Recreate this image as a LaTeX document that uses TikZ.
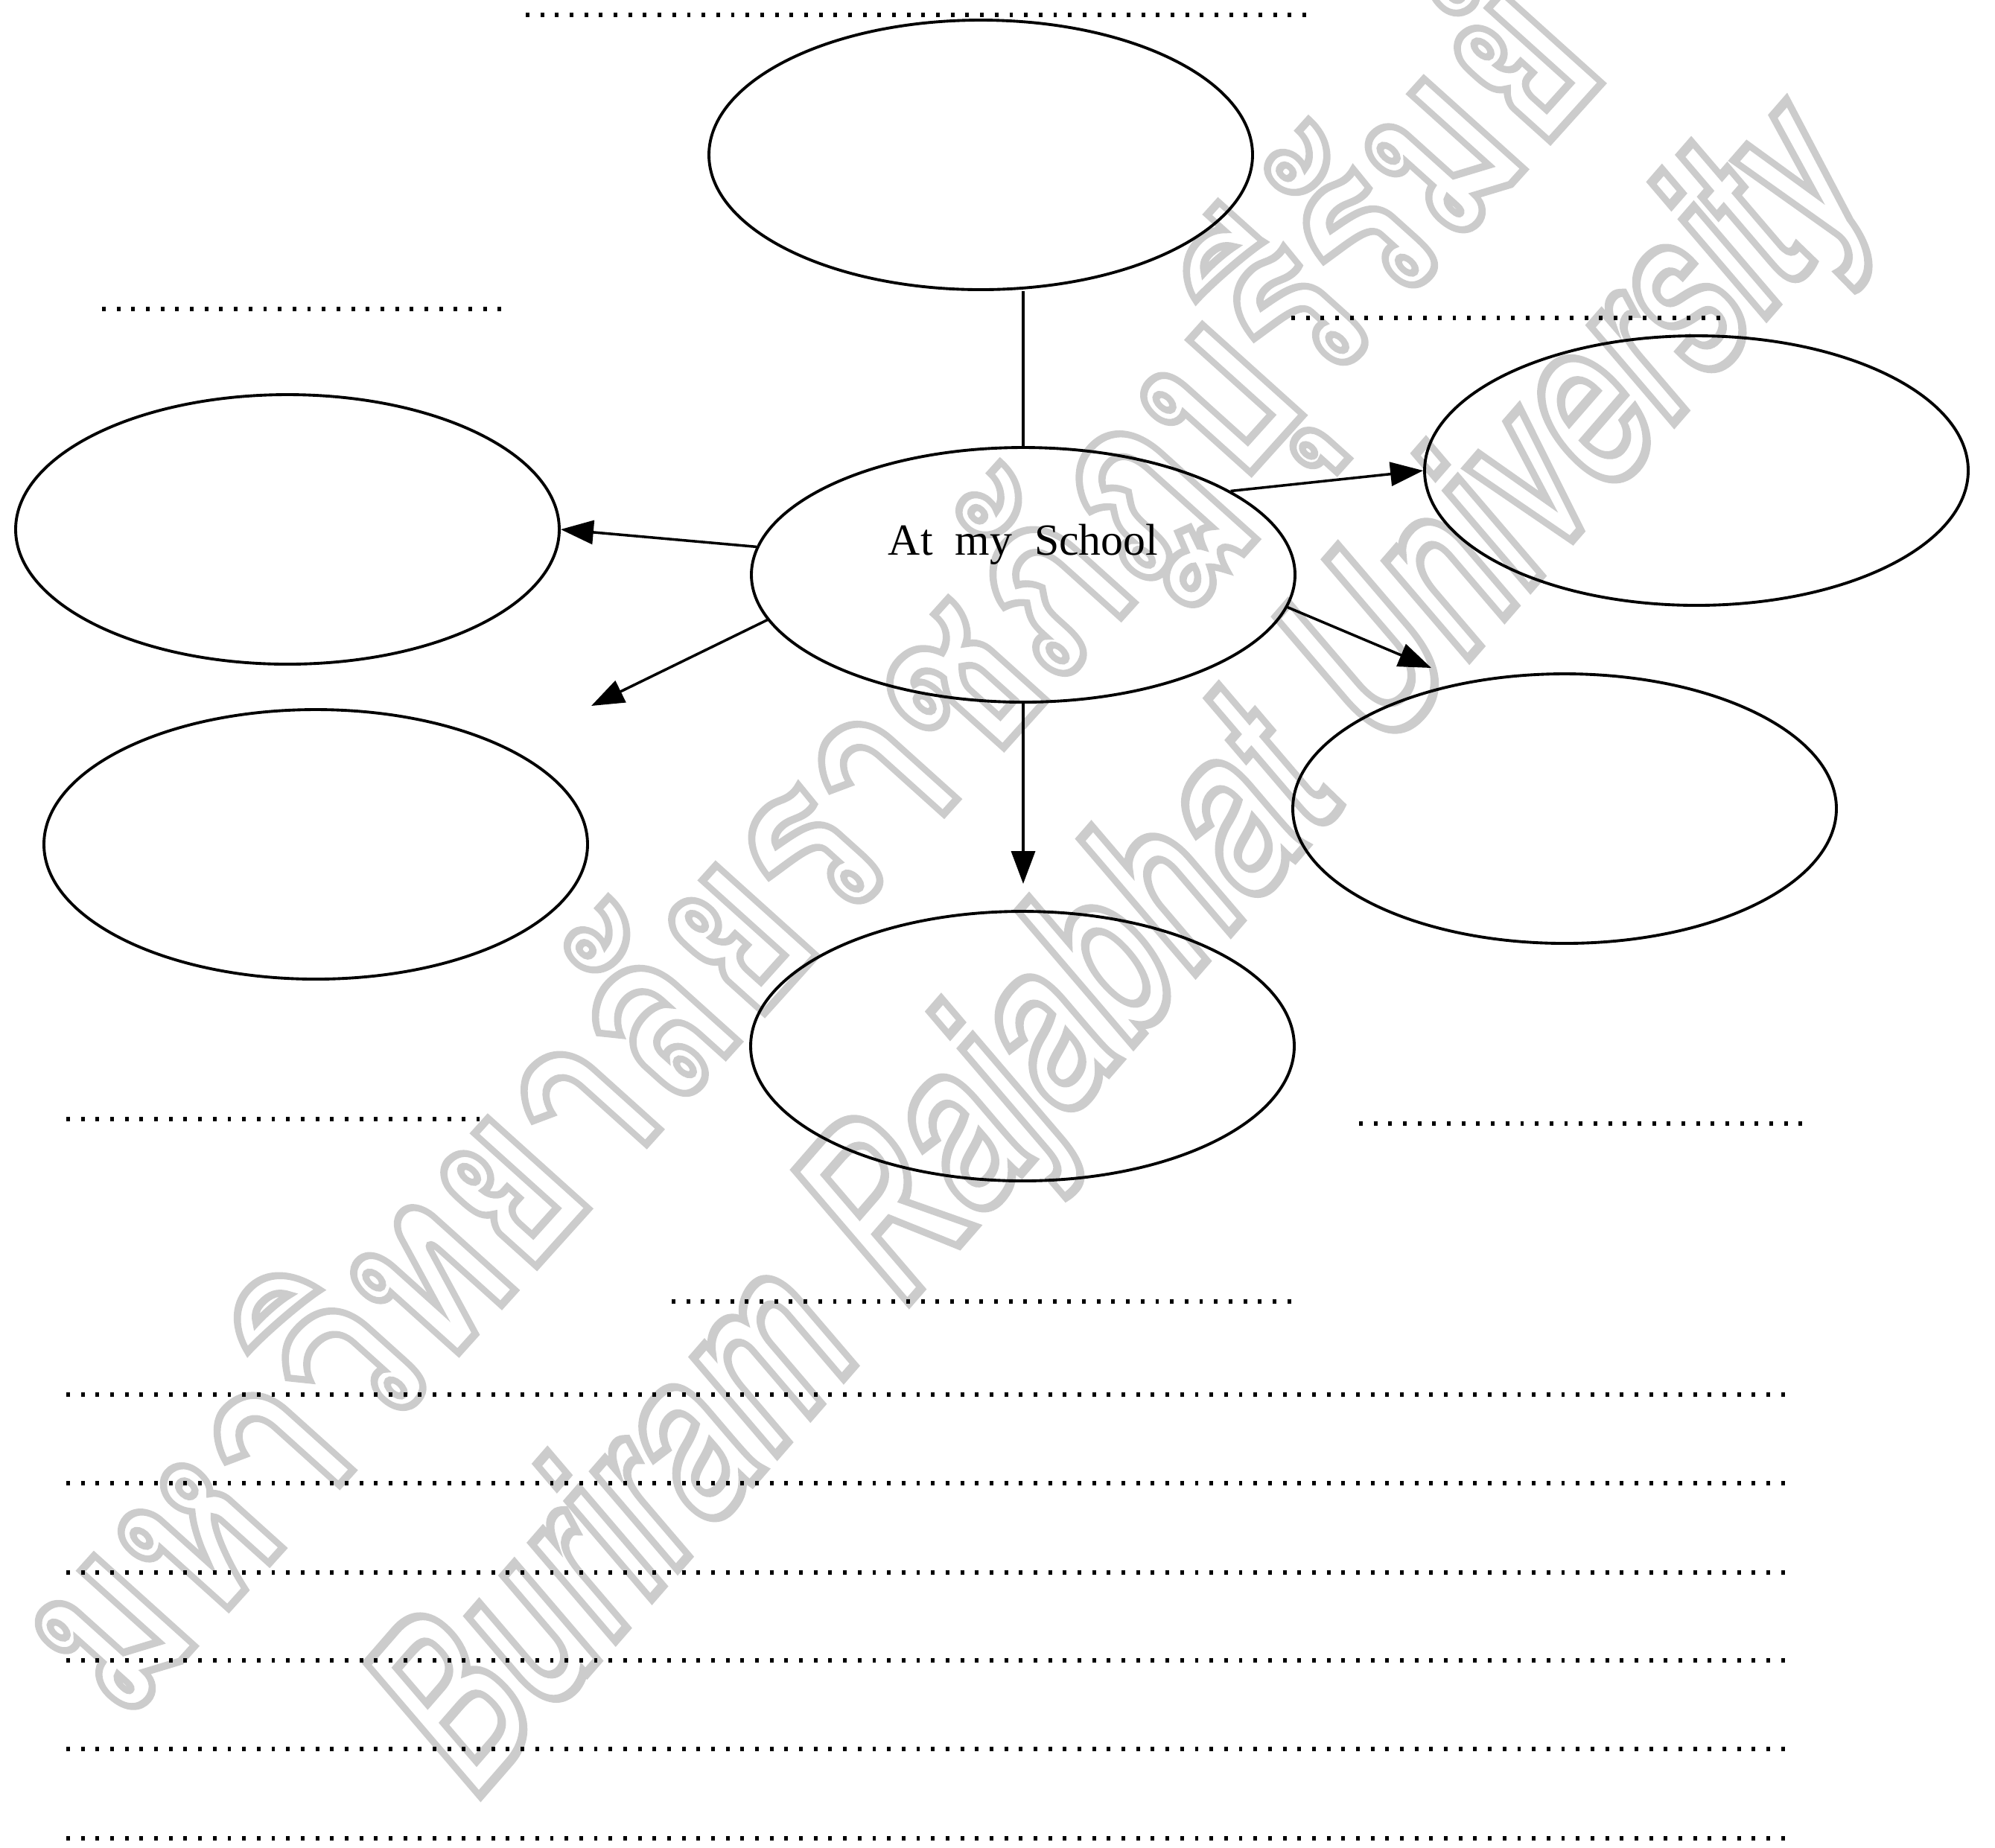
\documentclass[tikz,border=0pt]{standalone}
\usepackage{fontspec}
\setmainfont{Liberation Serif}
\newfontfamily\thaimark[Script=Thai]{Loma}
\usetikzlibrary{shapes.geometric,arrows.meta}

% outlined watermark text
\newcommand\hollow[1]{\special{pdf:literal direct 1 Tr 2.4 w}#1\special{pdf:literal direct 0 Tr}}

\begin{document}
\begin{tikzpicture}[
  bubble/.style={draw, ellipse, line width=1.1pt, minimum width=7.3cm, minimum height=3.62cm},
  arr/.style={line width=1pt, -{Triangle[length=4.4mm,width=3.2mm]}},
  dotline/.style={line width=1.8pt, dash pattern=on 1.4pt off 4.2pt},
  wmark/.style={text=black!20, inner sep=0pt}
]
\useasboundingbox (0,0) rectangle (26.79,-24.81);

% watermark
\node(wmthai)[wmark, rotate=48] at (10.9,-11.4) {\thaimark\bfseries\fontsize{74}{74}\selectfont\scalebox{1}[1.25]{\hollow{มหาวิทยาลัยราชภัฏบุรีรัมย์}}};
\node(wmeng)[wmark, rotate=49] at (15.1,-12.9) {\thaimark\bfseries\itshape\fontsize{62}{62}\selectfont\scalebox{1.05}[1.5]{\hollow{Buriram Rajabhat University}}};

% bubbles
\node(top)[bubble] at (13.17,-2.08) {};
\node(school)[bubble, minimum height=3.42cm] at (13.74,-7.72) {};
\node(upleft)[bubble] at (3.86,-7.11) {};
\node(lowleft)[bubble] at (4.24,-11.34) {};
\node(bottom)[bubble] at (13.73,-14.05) {};
\node(upright)[bubble] at (22.78,-6.32) {};
\node(lowright)[bubble] at (21.01,-10.86) {};

\node(title) at ([yshift=0.41cm]school.center) {\fontsize{17}{20}\selectfont At\hspace{0.3cm}my\hspace{0.3cm}School};

% free arrow ends
\coordinate(tipll) at (7.94,-9.48);
\coordinate(tipb) at (13.74,-11.87);
\coordinate(tiplr) at (19.22,-8.97);

\draw[line width=1pt] (school.north) -- (school.north |- top.south);
\draw[arr] (school.22) -- (upright.west);
\draw[arr] (school.174) -- (upleft.east);
\draw[arr] (school.190) -- (tipll);
\draw[arr] (school.south) -- (tipb);
\draw[arr] (school.-7) -- (tiplr);

% answer lines
\draw[dotline] (7.06,-0.20) -- (17.68,-0.20);
\draw[dotline] (1.37,-4.15) -- (6.83,-4.15);
\draw[dotline] (17.34,-4.27) -- (23.24,-4.27);
\draw[dotline] (0.89,-15.03) -- (6.44,-15.03);
\draw[dotline] (18.25,-15.09) -- (24.23,-15.09);
\draw[dotline] (9.02,-17.48) -- (17.43,-17.48);
\foreach \y in {18.73,19.92,21.12,22.30,23.49,24.69}
  \draw[dotline] (0.89,-\y) -- (24.09,-\y);

\end{tikzpicture}
\end{document}
